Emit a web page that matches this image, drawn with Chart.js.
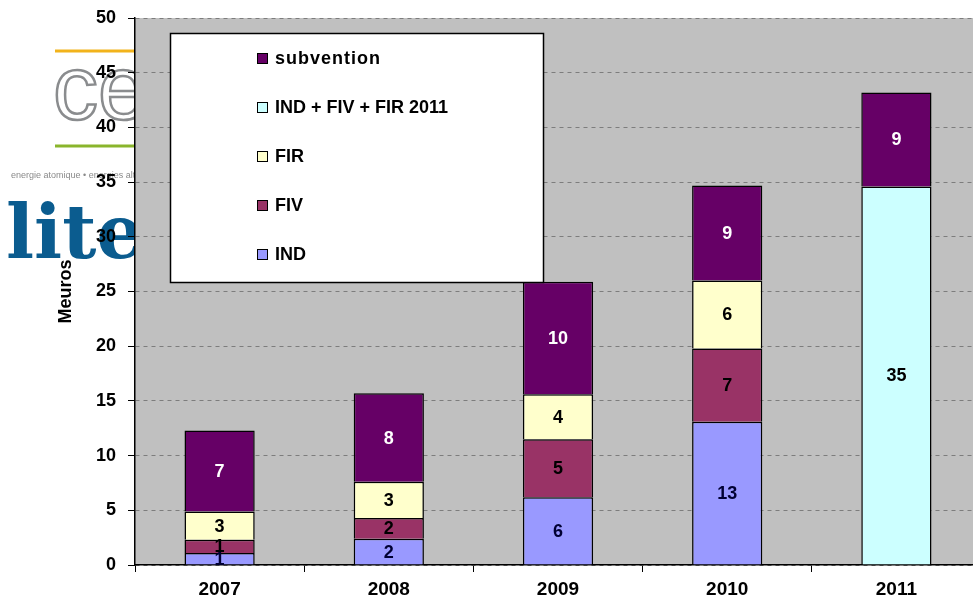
<!DOCTYPE html>
<html>
<head>
<meta charset="utf-8">
<script src="https://cdn.jsdelivr.net/npm/chart.js@4/dist/chart.umd.min.js"></script>
<style>
    html, body { margin: 0; padding: 0; background: #fff; overflow: hidden; }
    #chart { display: block; }
</style>
</head>
<body>
<canvas id="chart" width="985" height="608"></canvas>
<script>
(function () {

    // values (Meuros)
    const years = ["2007", "2008", "2009", "2010", "2011"];
    const ind = [1.1, 2.4, 6.2, 13.1, null];
    const fiv = [1.2, 1.9, 5.3, 6.7, null];
    const fir = [2.6, 3.3, 4.1, 6.2, null];
    const total2011 = [null, null, null, null, 34.6];
    const subvention = [7.4, 8.1, 10.3, 8.7, 8.6];
    const yTicks = [0, 5, 10, 15, 20, 25, 30, 35, 40, 45, 50];

    const font = "'Liberation Sans', Arial, sans-serif";

    function makeDataset(label, values, color, textColor) {
        return {
            label: label,
            data: values,
            backgroundColor: color,
            borderColor: "#000",
            borderWidth: 1.5,
            labelColor: textColor
        };
    }

    // white page, cea logo behind the axis, then the grey plot area
    const background = {
        id: "background",
        beforeDraw(chart) {
            const ctx = chart.ctx;
            const area = chart.chartArea;
            ctx.save();
            ctx.fillStyle = "#fff";
            ctx.fillRect(0, 0, chart.width, chart.height);

            ctx.lineWidth = 3;
            ctx.strokeStyle = "#f2b31b";
            ctx.beginPath(); ctx.moveTo(55, 51); ctx.lineTo(area.left, 51); ctx.stroke();
            ctx.strokeStyle = "#8ab52c";
            ctx.beginPath(); ctx.moveTo(55, 146); ctx.lineTo(area.left, 146); ctx.stroke();

            ctx.lineWidth = 2.5;
            ctx.strokeStyle = "#8a8c8e";
            ctx.font = "90px " + font;
            ctx.textBaseline = "alphabetic";
            ctx.strokeText("cea", 53, 119);

            ctx.fillStyle = "#8a8a8a";
            ctx.font = "9px " + font;
            ctx.fillText("energie atomique \u2022 energies alternatives", 11, 178);

            ctx.fillStyle = "#0b5c8f";
            ctx.font = "bold 74px 'DejaVu Serif', serif";
            ctx.fillText("lite", 6, 258);

            ctx.fillStyle = "#c0c0c0";
            ctx.fillRect(area.left, area.top, area.right - area.left, area.bottom - area.top);
            ctx.restore();
        }
    };

    const barLabels = {
        id: "barLabels",
        afterDatasetsDraw(chart) {
            const ctx = chart.ctx;
            ctx.save();
            ctx.font = "bold 18px " + font;
            ctx.textAlign = "center";
            ctx.textBaseline = "middle";
            chart.data.datasets.forEach((ds, i) => {
                chart.getDatasetMeta(i).data.forEach((bar, j) => {
                    const v = ds.data[j];
                    if (v === null || v === undefined) return;
                    ctx.fillStyle = ds.labelColor;
                    ctx.fillText(String(Math.round(v)), bar.x, (bar.y + bar.base) / 2 + 1);
                });
            });
            ctx.restore();
        }
    };

    // boxed legend sitting inside the plot, top-left
    const boxLegend = {
        id: "boxLegend",
        afterDraw(chart) {
            const ctx = chart.ctx;
            const items = chart.data.datasets.slice().reverse();
            ctx.save();
            ctx.fillStyle = "#fff";
            ctx.fillRect(170, 33, 373, 249);
            ctx.lineWidth = 1.5;
            ctx.strokeStyle = "#000";
            ctx.strokeRect(170.5, 33.5, 373, 249);
            ctx.textBaseline = "middle";
            items.forEach((ds, i) => {
                const y = 59 + i * 49;
                ctx.fillStyle = ds.backgroundColor;
                ctx.fillRect(257, y - 6, 11, 11);
                ctx.lineWidth = 1;
                ctx.strokeRect(257.5, y - 5.5, 10, 10);
                ctx.fillStyle = "#000";
                ctx.font = "bold 18px " + font;
                if (i === 0) ctx.letterSpacing = "1px";
                else ctx.letterSpacing = "0px";
                ctx.fillText(ds.label, 275, y);
            });
            ctx.restore();
        }
    };

    new Chart(document.getElementById("chart"), {
        type: "bar",
        data: {
            labels: years,
            datasets: [
                makeDataset("IND", ind, "#9999ff", "#000033"),
                makeDataset("FIV", fiv, "#993366", "#000"),
                makeDataset("FIR", fir, "#ffffcc", "#000"),
                makeDataset("IND + FIV + FIR 2011", total2011, "#ccffff", "#000"),
                makeDataset("subvention", subvention, "#660066", "#fff")
            ]
        },
        options: {
            responsive: false,
            animation: false,
            devicePixelRatio: 1,
            layout: { padding: { top: 18, right: 4, left: 0, bottom: 0 } },
            datasets: { bar: { barPercentage: 1, categoryPercentage: 0.415 } },
            plugins: {
                legend: { display: false },
                tooltip: { enabled: false }
            },
            scales: {
                x: {
                    stacked: true,
                    grid: { drawOnChartArea: false, tickLength: 7, tickColor: "#000", offset: true },
                    border: { color: "#000", width: 1.5 },
                    ticks: { color: "#000", padding: 6, font: { family: font, size: 19, weight: "bold" } },
                    afterFit(scale) { scale.height = 43; }
                },
                y: {
                    stacked: true,
                    min: 0,
                    max: 50,
                    afterBuildTicks(scale) { scale.ticks = yTicks.map(v => ({ value: v })); },
                    grid: { color: "#7d7d7d", tickLength: 7, tickColor: "#000" },
                    border: { color: "#000", width: 1.5, dash: [4, 4] },
                    ticks: { color: "#000", padding: 12, font: { family: font, size: 18, weight: "bold" } },
                    title: {
                        display: true,
                        text: "Meuros",
                        color: "#000",
                        padding: { top: 55, bottom: 0 },
                        font: { family: font, size: 18, weight: "bold" }
                    },
                    afterFit(scale) {
                        scale.width = 135;
                        scale.paddingTop = 4;
                        scale.paddingBottom = 4;
                    }
                }
            }
        },
        plugins: [background, barLabels, boxLegend]
    });
})();
</script>
</body>
</html>
